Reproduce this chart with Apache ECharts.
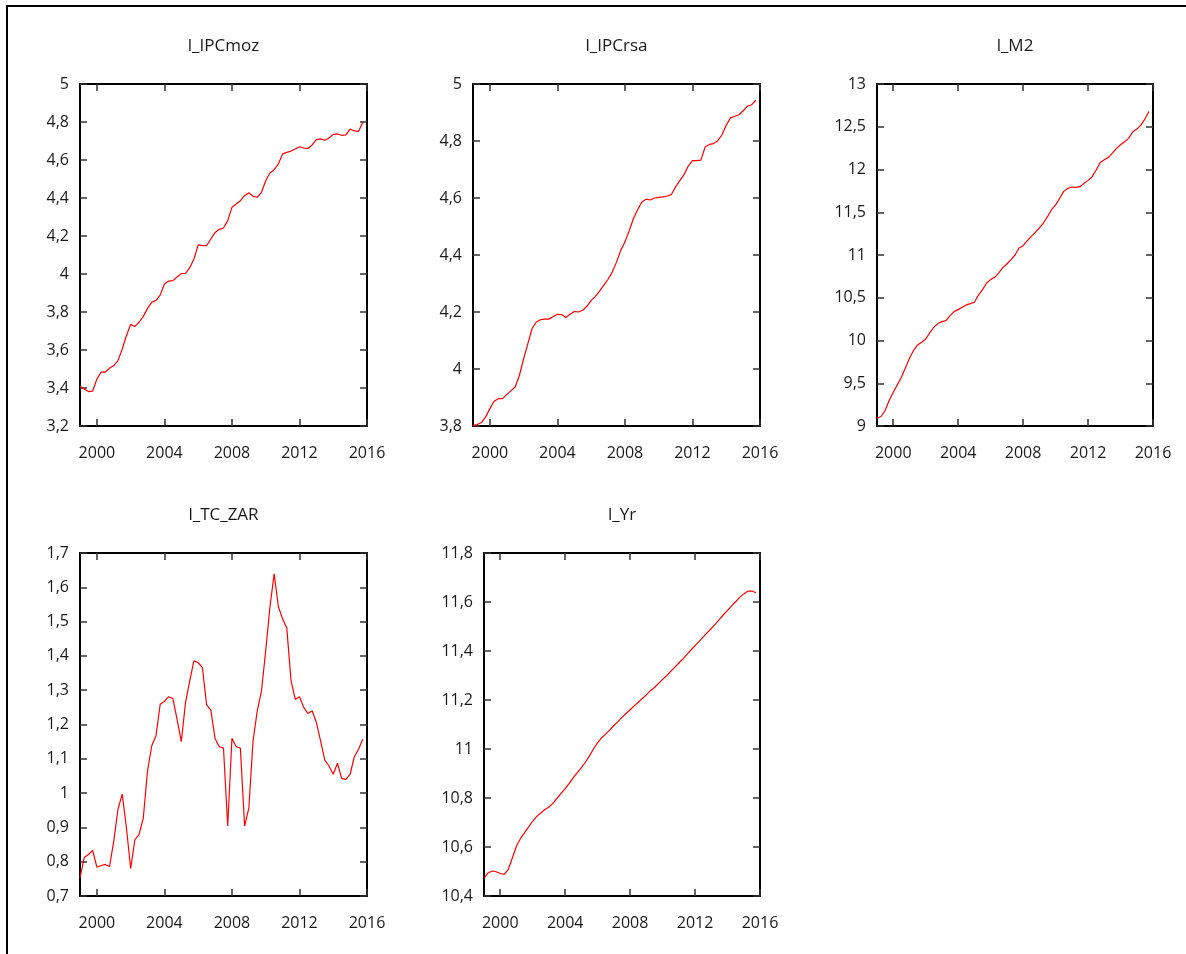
<!DOCTYPE html>
<html>
<head>
<meta charset="utf-8">
<script src="https://cdn.jsdelivr.net/npm/echarts@6/dist/echarts.min.js"></script>
<style>
  html, body { margin: 0; padding: 0; background: #fff; }
  #chart { position: absolute; left: 0; top: 0; width: 1186px; height: 954px; }
  #frame { position: absolute; left: 6px; top: 5px; right: 0; bottom: 0;
           border-top: 2px solid #000; border-left: 2px solid #000; pointer-events: none; }
</style>
</head>
<body>
<div id="chart"></div>
<div id="frame"></div>
<script>
// Quarterly sample: 1999:1 .. 2015:4
const startYear = 1999;
const nQuarters = 68;
const quarters = [];
for (let i = 0; i < nQuarters; i++) quarters.push(startYear + i / 4);

const yearTicks = [2000, 2004, 2008, 2012, 2016];

const l_IPCmoz = [
  3.409, 3.395, 3.381, 3.384, 3.447, 3.484, 3.484, 3.504, 3.518, 3.544,
  3.605, 3.675, 3.735, 3.724, 3.746, 3.777, 3.819, 3.851, 3.861, 3.889,
  3.947, 3.963, 3.965, 3.984, 4.002, 4.003, 4.033, 4.079, 4.153, 4.149,
  4.149, 4.184, 4.219, 4.235, 4.242, 4.281, 4.351, 4.368, 4.386, 4.412,
  4.428, 4.409, 4.404, 4.430, 4.491, 4.532, 4.549, 4.579, 4.632, 4.640,
  4.647, 4.658, 4.670, 4.663, 4.661, 4.679, 4.707, 4.711, 4.704, 4.716,
  4.735, 4.737, 4.730, 4.732, 4.763, 4.753, 4.751, 4.798
];

const l_IPCrsa = [
  3.802, 3.805, 3.812, 3.832, 3.861, 3.887, 3.896, 3.896, 3.910, 3.924,
  3.937, 3.978, 4.036, 4.089, 4.142, 4.165, 4.173, 4.175, 4.175, 4.184,
  4.192, 4.191, 4.181, 4.192, 4.202, 4.200, 4.206, 4.220, 4.241, 4.255,
  4.273, 4.294, 4.315, 4.340, 4.375, 4.416, 4.446, 4.484, 4.527, 4.559,
  4.586, 4.596, 4.593, 4.600, 4.602, 4.604, 4.607, 4.612, 4.639, 4.661,
  4.682, 4.712, 4.731, 4.731, 4.733, 4.779, 4.788, 4.791, 4.801, 4.822,
  4.855, 4.881, 4.887, 4.892, 4.906, 4.922, 4.927, 4.943
];

const l_M2 = [
  9.091, 9.111, 9.181, 9.298, 9.395, 9.481, 9.571, 9.680, 9.792, 9.882,
  9.948, 9.979, 10.018, 10.089, 10.155, 10.198, 10.221, 10.233, 10.291, 10.338,
  10.361, 10.389, 10.416, 10.431, 10.447, 10.532, 10.595, 10.673, 10.712, 10.739,
  10.790, 10.852, 10.895, 10.946, 11.000, 11.082, 11.109, 11.164, 11.218, 11.265,
  11.316, 11.374, 11.448, 11.530, 11.585, 11.663, 11.744, 11.779, 11.795, 11.791,
  11.799, 11.838, 11.873, 11.916, 11.994, 12.083, 12.114, 12.142, 12.192, 12.247,
  12.290, 12.325, 12.364, 12.442, 12.473, 12.519, 12.590, 12.679
];

const l_TC_ZAR = [
  0.753, 0.812, 0.821, 0.833, 0.784, 0.789, 0.792, 0.786, 0.860, 0.953,
  0.997, 0.899, 0.780, 0.864, 0.880, 0.928, 1.065, 1.138, 1.167, 1.259,
  1.267, 1.281, 1.276, 1.215, 1.150, 1.264, 1.327, 1.386, 1.380, 1.366,
  1.257, 1.242, 1.159, 1.135, 1.131, 0.904, 1.160, 1.135, 1.131, 0.904,
  0.956, 1.152, 1.240, 1.298, 1.415, 1.542, 1.639, 1.544, 1.508, 1.481,
  1.328, 1.273, 1.281, 1.250, 1.232, 1.240, 1.206, 1.152, 1.096, 1.079,
  1.055, 1.087, 1.043, 1.040, 1.055, 1.106, 1.128, 1.157
];

const l_Yr = [
  10.472, 10.494, 10.502, 10.499, 10.492, 10.488, 10.509, 10.556, 10.604, 10.635,
  10.659, 10.682, 10.706, 10.725, 10.739, 10.753, 10.763, 10.778, 10.799, 10.819,
  10.838, 10.860, 10.883, 10.904, 10.924, 10.947, 10.972, 11.001, 11.026, 11.046,
  11.062, 11.078, 11.096, 11.112, 11.129, 11.145, 11.160, 11.176, 11.191, 11.206,
  11.221, 11.238, 11.251, 11.268, 11.284, 11.299, 11.317, 11.333, 11.351, 11.368,
  11.386, 11.404, 11.422, 11.439, 11.457, 11.475, 11.492, 11.510, 11.529, 11.548,
  11.566, 11.584, 11.601, 11.619, 11.633, 11.644, 11.645, 11.638
];

// One panel per variable: name, values, y range and step
const panels = [
  { name: 'l_IPCmoz', values: l_IPCmoz, min: 3.2, max: 5, step: 0.2 },
  { name: 'l_IPCrsa', values: l_IPCrsa, min: 3.8, max: 5, step: 0.2 },
  { name: 'l_M2', values: l_M2, min: 9, max: 13, step: 0.5 },
  { name: 'l_TC_ZAR', values: l_TC_ZAR, min: 0.7, max: 1.7, step: 0.1 },
  { name: 'l_Yr', values: l_Yr, min: 10.4, max: 11.8, step: 0.2 }
];

// Plot box placement (px)
const boxes = [
  { left: 80, top: 84, width: 287, height: 342 },
  { left: 473, top: 84, width: 287, height: 342 },
  { left: 877, top: 84, width: 276, height: 342 },
  { left: 80, top: 553, width: 287, height: 343 },
  { left: 484, top: 553, width: 276, height: 343 }
];

const FONT = '"Open Sans", "DejaVu Sans", sans-serif';
const TEXT = '#1a1a1a';
const LINE = '#000';

const fmtNum = v => String(+(+v).toFixed(2)).replace('.', ',');

const option = {
  animation: false,
  backgroundColor: '#fff',
  title: [], grid: [], xAxis: [], yAxis: [], series: []
};

panels.forEach((p, k) => {
  const b = boxes[k];
  option.grid.push({ left: b.left, top: b.top, width: b.width, height: b.height, containLabel: false });
  option.title.push({
    text: p.name,
    left: b.left + b.width / 2,
    top: b.top - 46,
    textAlign: 'center',
    padding: 0,
    textStyle: { fontFamily: FONT, fontSize: 17, fontWeight: 'normal', color: TEXT }
  });

  const axisLine = { show: true, lineStyle: { color: LINE, width: 2 } };
  const tick = { show: true, inside: true, length: 7, lineStyle: { color: '#333', width: 1.5 } };

  // bottom x axis with labels
  option.xAxis.push({
    type: 'value', gridIndex: k, position: 'bottom', min: startYear, max: 2016,
    axisLine,
    axisTick: Object.assign({ customValues: yearTicks }, tick),
    axisLabel: { customValues: yearTicks, margin: 19, fontFamily: FONT, fontSize: 16, color: TEXT,
                 formatter: v => String(v) },
    splitLine: { show: false }
  });
  // top mirror x axis
  option.xAxis.push({
    type: 'value', gridIndex: k, position: 'top', min: startYear, max: 2016,
    axisLine,
    axisTick: Object.assign({ customValues: yearTicks }, tick),
    axisLabel: { show: false },
    splitLine: { show: false }
  });
  // left y axis with labels
  option.yAxis.push({
    type: 'value', gridIndex: k, position: 'left', min: p.min, max: p.max, interval: p.step,
    axisLine, axisTick: tick,
    axisLabel: { margin: 11, fontFamily: FONT, fontSize: 16, color: TEXT, formatter: fmtNum,
                 showMinLabel: true, showMaxLabel: true },
    splitLine: { show: false }
  });
  // right mirror y axis
  option.yAxis.push({
    type: 'value', gridIndex: k, position: 'right', min: p.min, max: p.max, interval: p.step,
    axisLine, axisTick: tick,
    axisLabel: { show: false },
    splitLine: { show: false }
  });

  option.series.push({
    type: 'line',
    name: p.name,
    xAxisIndex: 2 * k,
    yAxisIndex: 2 * k,
    data: p.values.map((v, i) => [quarters[i], v]),
    showSymbol: false,
    symbol: 'none',
    lineStyle: { color: '#ff0000', width: 1.2 },
    z: 3
  });
});

const chart = echarts.init(document.getElementById('chart'), null, { renderer: 'canvas' });
chart.setOption(option);
</script>
</body>
</html>
